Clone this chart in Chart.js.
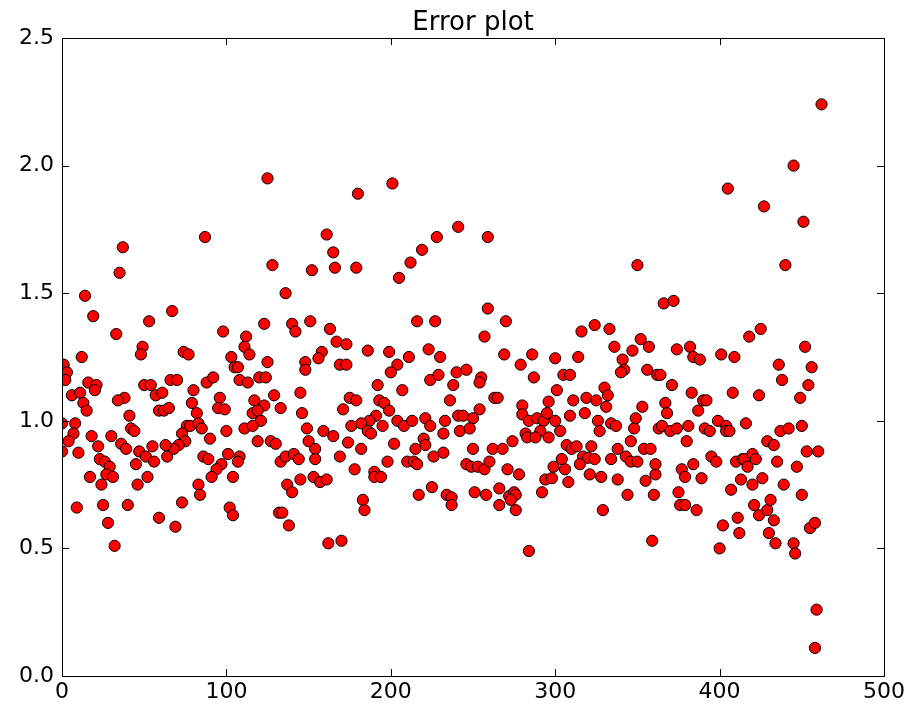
<!DOCTYPE html>
<html>
<head>
<meta charset="utf-8">
<title>Error plot</title>
<script src="https://cdn.jsdelivr.net/npm/chart.js@4.4.1/dist/chart.umd.min.js"></script>
<style>
  html, body { margin: 0; padding: 0; background: #fff; }
  #wrap { width: 911px; height: 707px; }
</style>
</head>
<body>
<div id="wrap"><canvas id="plot" width="911" height="707"></canvas></div>
<script>
// sample index (x) and error value (y) left to right
const errX = [
  // 0 - 55
  37,35,14,19,33,53,49,48,12,1, 3,2,16,21,20,6,11,13,15,50,
  38,34,41,0,8,7,4,0,10,18, 30,36,39,42,44,47,22,23,26,29,
  45,51,17,24,27,31,46,52,9,25, 40,28,32,
  // 55 - 105
  54,87,67,98,103,105,74,77,66,70, 88,92,57,61,80,59,62,65,79,82,
  96,95,99,76,78,83,85,73,75,71, 68,90,100,55,63,56,64,86,89,101,
  97,94,91,104,83,84,73,102,104,59, 69,
  // 105 - 157
  125,128,152,136,123,140,142,151,112,111, 114,107,125,148,148,108,113,120,124,129,
  145,117,123,116,119,121,133,146,111,116, 149,119,127,130,150,154,154,108,107,133,
  136,141,144,145,153,157,137,140,132,134, 138,
  // 157 - 208
  201,180,161,165,166,179,205,163,167,173, 158,156,186,199,169,173,204,200,192,175,
  179,171,193,196,199,191,187,176,182,186, 188,195,204,208,159,165,174,182,169,202,
  198,161,178,190,190,194,183,184,162,170,
  // 208 - 260
  241,228,219,212,259,216,227,259,257,223, 230,211,224,229,240,246,238,255,254,207,
  236,254,213,221,224,233,232,241,244,250, 242,248,220,221,215,232,226,250,210,214,
  216,246,249,253,257,260,225,217,234,237, 237,251,258,
  // 260 - 311
  270,269,286,279,300,287,305,309,301,263, 265,280,296,311,280,284,289,293,295,300,
  309,291,303,282,283,288,296,274,262,268, 307,310,271,278,304,299,306,294,298,308,
  266,272,275,276,292,266,273,276,284,
  // 311 - 364
  350,324,316,333,352,357,336,347,341,342, 340,314,356,362,364,330,332,331,319,325,
  353,318,326,327,334,337,349,348,346,313, 322,317,320,324,338,343,346,350,334,354,
  358,315,321,328,338,355,361,344,360,329, 359,
  // 364 - 414
  405,366,372,374,382,384,388,401,409,371, 383,390,392,408,367,368,387,363,365,370,
  374,381,380,391,394,399,404,404,406,395, 398,410,414,361,377,379,384,389,413,375,
  407,376,379,386,402,411,412,400,
  // 414 - 462
  462,445,427,451,440,418,425,452,436,438, 456,454,449,424,416,437,442,450,429,433,
  453,460,415,420,422,417,435,447,420,426, 439,450,421,424,429,431,433,430,434,445,
  446,455,458,459,458
];
const errY = [
  // 0 - 55
  1.68,1.58,1.49,1.41,1.34,1.39,1.29,1.26,1.25,1.22, 1.19,1.16,1.15,1.14,1.12,1.10,1.11,1.07,1.04,1.14,
  1.09,1.08,1.02,0.99,0.99,0.95,0.92,0.88,0.875,0.94, 0.94,0.91,0.89,0.97,0.96,0.88,0.90,0.85,0.84,0.82,
  0.83,0.86,0.78,0.75,0.79,0.78,0.75,0.78,0.66,0.67, 0.67,0.60,0.51,
  // 55 - 105
  1.14,1.72,1.43,1.35,1.25,1.21,1.27,1.26,1.16,1.16, 1.15,1.17,1.10,1.11,1.12,1.04,1.04,1.05,1.07,1.03,
  1.09,1.05,1.045,0.98,0.98,0.99,0.97,0.95,0.92,0.905, 0.89,0.93,0.96,0.90,0.905,0.84,0.86,0.86,0.85,0.87,
  0.83,0.81,0.78,0.78,0.75,0.71,0.68,0.66,0.63,0.62, 0.585,
  // 105 - 157
  1.95,1.61,1.59,1.50,1.38,1.38,1.35,1.39,1.33,1.29, 1.26,1.21,1.23,1.23,1.20,1.16,1.15,1.17,1.17,1.10,
  1.11,1.08,1.06,1.03,1.04,1.00,1.05,1.03,0.97,0.98, 0.97,0.92,0.92,0.91,0.92,0.89,0.85,0.86,0.84,0.84,
  0.86,0.87,0.85,0.77,0.78,0.76,0.75,0.72,0.64,0.64, 0.59,
  // 157 - 208
  1.93,1.89,1.73,1.66,1.60,1.60,1.56,1.36,1.31,1.30, 1.27,1.245,1.275,1.27,1.22,1.22,1.22,1.19,1.14,1.09,
  1.08,1.045,1.08,1.07,1.04,1.02,1.00,0.98,0.99,0.96, 0.95,0.98,1.00,0.98,0.96,0.94,0.915,0.89,0.86,0.91,
  0.84,0.77,0.81,0.80,0.78,0.78,0.69,0.65,0.52,0.53,
  // 208 - 260
  1.76,1.72,1.67,1.62,1.72,1.39,1.39,1.44,1.33,1.28, 1.25,1.25,1.16,1.18,1.19,1.20,1.14,1.17,1.15,1.12,
  1.08,1.045,1.00,1.01,0.98,1.00,0.95,1.02,1.02,1.01, 0.96,0.97,0.93,0.905,0.89,0.875,0.86,0.89,0.84,0.84,
  0.83,0.83,0.82,0.82,0.81,0.84,0.74,0.71,0.71,0.70, 0.67,0.72,0.71,
  // 260 - 311
  1.39,1.26,1.26,1.22,1.245,1.17,1.18,1.18,1.12,1.09, 1.09,1.06,1.075,1.08,1.025,1.00,1.01,1.00,1.03,1.00,
  1.02,0.96,0.96,0.95,0.935,0.935,0.935,0.92,0.89,0.89, 0.905,0.89,0.81,0.79,0.85,0.82,0.81,0.77,0.775,0.76,
  0.735,0.705,0.72,0.71,0.72,0.67,0.69,0.65,0.49,
  // 311 - 364
  1.61,1.375,1.35,1.36,1.32,1.29,1.29,1.275,1.24,1.20, 1.19,1.25,1.20,1.18,1.18,1.13,1.10,1.055,1.09,1.08,
  1.055,1.03,1.00,0.96,0.99,0.98,1.01,0.97,0.92,0.90, 0.90,0.86,0.855,0.85,0.89,0.86,0.84,0.84,0.85,0.89,
  0.89,0.83,0.79,0.78,0.77,0.765,0.79,0.71,0.71,0.65, 0.53,
  // 364 - 414
  1.91,1.46,1.47,1.28,1.29,1.25,1.24,1.26,1.25,1.14, 1.11,1.08,1.08,1.11,1.07,1.03,1.04,0.97,0.98,0.96,
  0.97,0.98,0.92,0.97,0.96,1.00,0.98,0.96,0.96,0.86, 0.84,0.84,0.85,0.83,0.81,0.78,0.83,0.775,0.77,0.72,
  0.73,0.67,0.67,0.65,0.59,0.62,0.56,0.50,
  // 414 - 462
  2.24,2.00,1.84,1.78,1.61,1.33,1.36,1.29,1.22,1.16, 1.21,1.14,1.09,1.10,0.99,0.96,0.97,0.98,0.92,0.905,
  0.88,0.88,0.85,0.87,0.85,0.82,0.84,0.82,0.75,0.775, 0.75,0.71,0.67,0.63,0.65,0.69,0.61,0.56,0.52,0.52,
  0.48,0.58,0.60,0.26,0.11
];
const xTicks = [0, 100, 200, 300, 400, 500];
const yTicks = [0, 0.5, 1.0, 1.5, 2.0, 2.5];
const titleText = 'Error plot';

const points = errX.map((x, i) => ({ x: x, y: errY[i] }));

// matplotlib style box with inward ticks on all four sides
const boxTicks = {
  id: 'boxTicks',
  afterDraw(chart) {
    const ctx = chart.ctx;
    const a = chart.chartArea;
    const xs = chart.scales.x, ys = chart.scales.y;
    const len = 7;
    ctx.save();
    ctx.strokeStyle = '#000';
    ctx.lineWidth = 1;
    ctx.beginPath();
    for (const v of xTicks) {
      const px = Math.round(xs.getPixelForValue(v)) + 0.5;
      ctx.moveTo(px, a.bottom); ctx.lineTo(px, a.bottom - len);
      ctx.moveTo(px, a.top); ctx.lineTo(px, a.top + len);
    }
    for (const v of yTicks) {
      const py = Math.round(ys.getPixelForValue(v)) + 0.5;
      ctx.moveTo(a.left, py); ctx.lineTo(a.left + len, py);
      ctx.moveTo(a.right, py); ctx.lineTo(a.right - len, py);
    }
    ctx.stroke();
    ctx.strokeRect(Math.round(a.left) + 0.5, Math.round(a.top) + 0.5,
                   Math.round(a.right - a.left), Math.round(a.bottom - a.top));
    ctx.restore();
  }
};

new Chart(document.getElementById('plot'), {
  type: 'scatter',
  data: {
    datasets: [{
      label: 'error',
      data: points,
      backgroundColor: '#ff0000',
      borderColor: '#000000',
      borderWidth: 1,
      pointRadius: 5.6,
      pointHoverRadius: 5.6,
      clip: 0
    }]
  },
  options: {
    responsive: false,
    animation: false,
    events: [],
    layout: { padding: { top: 0, right: 27, bottom: 0, left: 0 } },
    plugins: {
      legend: { display: false },
      tooltip: { enabled: false },
      title: {
        display: true,
        fullSize: false,
        text: titleText,
        color: '#000',
        font: { family: 'DejaVu Sans', size: 26, weight: 'normal', lineHeight: 1.0 },
        padding: { top: 10, bottom: 2 }
      }
    },
    scales: {
      x: {
        type: 'linear',
        min: 0,
        max: 500,
        afterBuildTicks: s => { s.ticks = xTicks.map(v => ({ value: v })); },
        afterFit: s => { s.height = 31; },
        grid: { display: false, drawTicks: false },
        border: { display: false },
        ticks: {
          color: '#000',
          padding: 3,
          maxRotation: 0,
          font: { family: 'DejaVu Sans', size: 22 },
          callback: v => String(v)
        }
      },
      y: {
        type: 'linear',
        min: 0,
        max: 2.5,
        afterBuildTicks: s => { s.ticks = yTicks.map(v => ({ value: v })); },
        afterFit: s => { s.width = 62; },
        grid: { display: false, drawTicks: false },
        border: { display: false },
        ticks: {
          color: '#000',
          padding: 8,
          font: { family: 'DejaVu Sans', size: 22 },
          callback: v => v.toFixed(1)
        }
      }
    }
  },
  plugins: [boxTicks]
});
</script>
</body>
</html>
